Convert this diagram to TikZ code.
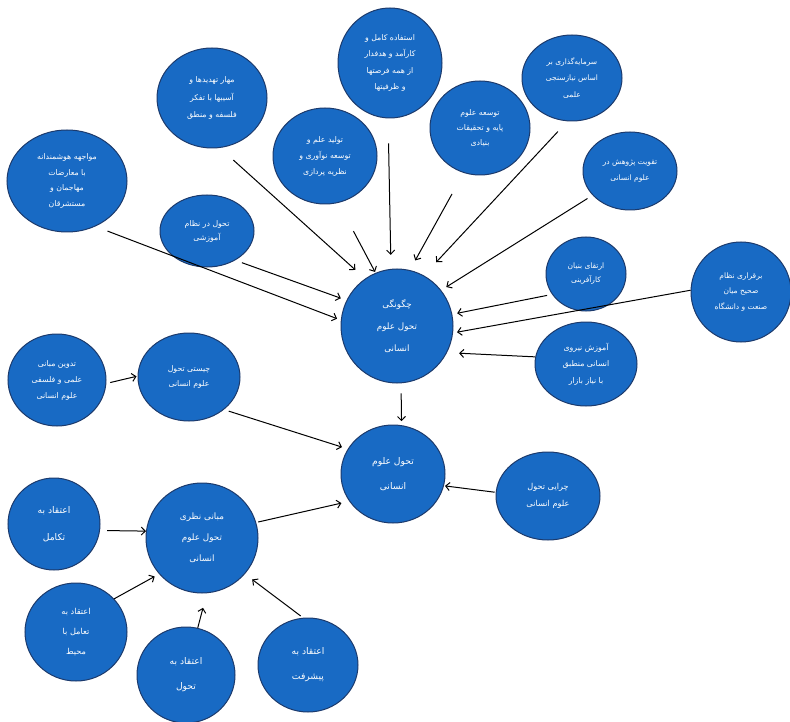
\documentclass[tikz,border=0pt]{standalone}
\usepackage{fontspec}
\newfontfamily\arabicfont[Script=Arabic]{DejaVu Sans}
\TeXXeTstate=1
\usetikzlibrary{shapes.geometric,arrows.meta}
\definecolor{bubblefill}{RGB}{24,106,196}
\definecolor{bubbleline}{RGB}{28,58,108}
\newcommand{\fa}[1]{\beginR #1\endR}
\tikzset{
bubble/.style 2 args={ellipse,draw=bubbleline,line width=1pt,fill=bubblefill,text=white,minimum width=#1,minimum height=#2,inner sep=0pt,align=center},
txt/.style 2 args={font=\arabicfont\fontsize{#1}{#2}\selectfont},
link/.style={->,>={Straight Barb[length=4pt,width=8pt]},line width=1pt}
}
\begin{document}
\begin{tikzpicture}[x=1pt,y=-1pt]
\useasboundingbox (0,0) rectangle (790,722);
\node[bubble={120pt}{102pt},txt={7.8}{15.5}] (face) at (67,181) {\fa{مواجهه هوشمندانه}\\\fa{با معارضات}\\\fa{مهاجمان و}\\\fa{مستشرقان}};
\node[bubble={110pt}{100pt},txt={7.8}{17.5}] (curb) at (212,98) {\fa{مهار تهدیدها و}\\\fa{آسیبها با تفکر}\\\fa{فلسفه و منطق}};
\node[bubble={104pt}{96pt},txt={7.8}{16}] (produce) at (325,156) {\fa{تولید علم و}\\\fa{توسعه نوآوری و}\\\fa{نظریه پردازی}};
\node[bubble={94pt}{72pt},txt={7.8}{14}] (reform) at (207,231) {\fa{تحول در نظام}\\\fa{آموزشی}};
\node[bubble={104pt}{110pt},txt={7.8}{16.5}] (use) at (390,63) {\fa{استفاده کامل و}\\\fa{کارآمد و هدفدار}\\\fa{از همه فرصتها}\\\fa{و ظرفیتها}};
\node[bubble={100pt}{94pt},txt={7.8}{15}] (basic) at (480,128) {\fa{توسعه علوم}\\\fa{پایه و تحقیقات}\\\fa{بنیادی}};
\node[bubble={100pt}{86pt},txt={7.5}{16.5}] (invest) at (572,78) {\fa{سرمایه‌گذاری بر}\\\fa{اساس نیازسنجی}\\\fa{علمی}};
\node[bubble={94pt}{78pt},txt={7.5}{16.5}] (boost) at (630,171) {\fa{تقویت پژوهش در}\\\fa{علوم انسانی}};
\node[bubble={80pt}{74pt},txt={7.5}{14}] (entre) at (586,274) {\fa{ارتقای بنیان}\\\fa{کارآفرینی}};
\node[bubble={100pt}{100pt},txt={7.5}{15.5}] (bridge) at (741,292) {\fa{برقراری نظام}\\\fa{صحیح میان}\\\fa{صنعت و دانشگاه}};
\node[bubble={102pt}{84pt},txt={7.8}{16.5}] (train) at (586,364) {\fa{آموزش نیروی}\\\fa{انسانی منطبق}\\\fa{با نیاز بازار}};
\node[bubble={112pt}{114pt},txt={8.8}{22}] (how) at (397,326) {\fa{چگونگی}\\\fa{تحول علوم}\\\fa{انسانی}};
\node[bubble={98pt}{92pt},txt={7.8}{16}] (codify) at (57,380) {\fa{تدوین مبانی}\\\fa{علمی و فلسفی}\\\fa{علوم انسانی}};
\node[bubble={102pt}{88pt},txt={7.8}{15}] (what) at (189,377) {\fa{چیستی تحول}\\\fa{علوم انسانی}};
\node[bubble={104pt}{98pt},txt={9.2}{25}] (change) at (393,474) {\fa{تحول علوم}\\\fa{انسانی}};
\node[bubble={104pt}{88pt},txt={8.2}{16.5}] (why) at (548,496) {\fa{چرایی تحول}\\\fa{علوم انسانی}};
\node[bubble={92pt}{92pt},txt={9.2}{27}] (evol) at (54,524) {\fa{اعتقاد به}\\\fa{تکامل}};
\node[bubble={112pt}{110pt},txt={8.8}{21}] (theory) at (202,538) {\fa{مبانی نظری}\\\fa{تحول علوم}\\\fa{انسانی}};
\node[bubble={102pt}{98pt},txt={8.2}{20}] (inter) at (76,632) {\fa{اعتقاد به}\\\fa{تعامل با}\\\fa{محیط}};
\node[bubble={98pt}{96pt},txt={9.2}{25}] (trans) at (186,675) {\fa{اعتقاد به}\\\fa{تحول}};
\node[bubble={100pt}{94pt},txt={9.2}{25}] (prog) at (308,665) {\fa{اعتقاد به}\\\fa{پیشرفت}};
% arrows into the upper centre
\draw[link,shorten <=13pt,shorten >=4pt] (face.-58) -- (how.174);
\draw[link,shorten <=7pt,shorten >=6pt] (reform.-46) -- (how.153);
\draw[link,shorten <=18pt,shorten >=13pt] (curb.-81) -- (how.124);
\draw[link,shorten <=32pt,shorten >=1pt] (produce.-74) -- (how.112);
\draw[link,shorten <=25pt,shorten >=14pt] (use.-92) -- (how.96);
\draw[link,shorten <=24pt,shorten >=11pt] (basic.-110) -- (how.77);
\draw[link,shorten <=14pt,shorten >=18pt] (invest.-96) -- (how.62);
\draw[link,shorten <=6pt,shorten >=6pt] (boost.-147) -- (how.39);
\draw[link,shorten <=5pt,shorten >=5pt] (entre.-149) -- (how.12);
\draw[link,shorten >=4pt] (bridge.178) -- (how.-7);
\draw[link,shorten >=12pt] (train.172) -- (how.-28);
% arrows into the lower centre
\draw[link,shorten <=10pt,shorten >=4pt] (how.-86) -- (change.80);
\draw[link,shorten <=4pt,shorten >=1pt] (codify.-4) -- (what.179);
\draw[link,shorten <=5pt,shorten >=6pt] (what.-43) -- (change.151);
\draw[link,shorten <=1pt,shorten >=1pt] (why.176) -- (change.-13);
\draw[link,shorten <=2pt,shorten >=8pt] (theory.16) -- (change.-148);
% arrows into the theory bubble
\draw[link,shorten <=7pt] (evol.-8) -- (theory.173);
\draw[link,shorten >=5pt] (inter.41) -- (theory.-140);
\draw[link,shorten >=15pt] (trans.76) -- (theory.-85);
\draw[link,shorten <=3pt,shorten >=9pt] (prog.96) -- (theory.-40);
\end{tikzpicture}
\end{document}
